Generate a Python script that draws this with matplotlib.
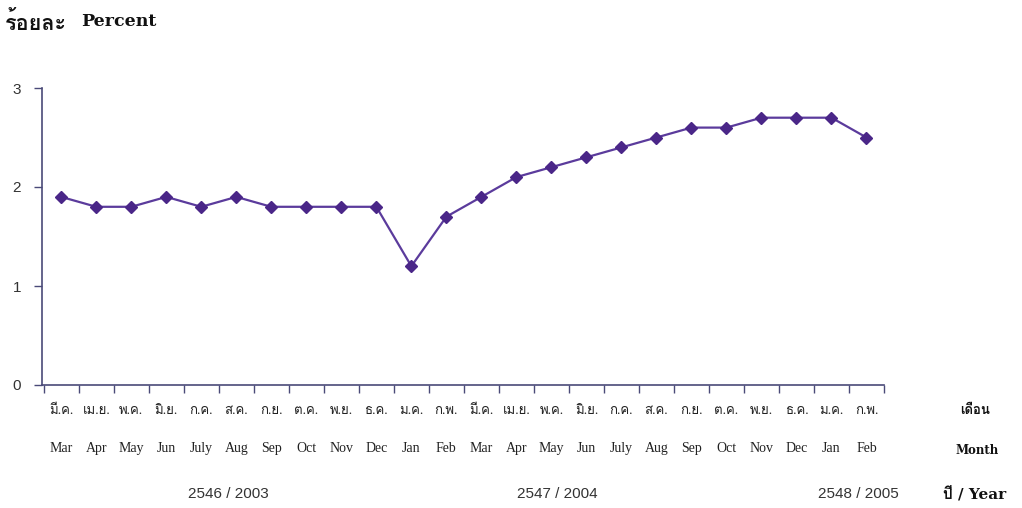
import matplotlib
matplotlib.use("Agg")
import matplotlib.pyplot as plt
import numpy as np

# monthly values, Mar 2003 .. Feb 2005
thai_months = ["มี.ค.", "เม.ย.", "พ.ค.", "มิ.ย.", "ก.ค.", "ส.ค.", "ก.ย.", "ต.ค.",
               "พ.ย.", "ธ.ค.", "ม.ค.", "ก.พ.", "มี.ค.", "เม.ย.", "พ.ค.", "มิ.ย.",
               "ก.ค.", "ส.ค.", "ก.ย.", "ต.ค.", "พ.ย.", "ธ.ค.", "ม.ค.", "ก.พ."]
eng_months = ["Mar", "Apr", "May", "Jun", "July", "Aug", "Sep", "Oct", "Nov", "Dec",
              "Jan", "Feb", "Mar", "Apr", "May", "Jun", "July", "Aug", "Sep", "Oct",
              "Nov", "Dec", "Jan", "Feb"]
values = [1.9, 1.8, 1.8, 1.9, 1.8, 1.9, 1.8, 1.8, 1.8, 1.8, 1.2, 1.7,
          1.9, 2.1, 2.2, 2.3, 2.4, 2.5, 2.6, 2.6, 2.7, 2.7, 2.7, 2.5]
year_labels = ["2546 / 2003", "2547 / 2004", "2548 / 2005"]
year_label_x = [4.76, 14.16, 22.76]

THAI = ["Norasi", "Loma", "Sarabun", "Noto Sans Thai"]
SERIF = ["Liberation Serif"] + THAI
BOLD_SERIF = ["DejaVu Serif"] + THAI
SANS = ["Liberation Sans"]

AXIS_COLOR = "#4a4a78"
LINE_COLOR = "#5b3b9c"
MARKER_COLOR = "#4a2688"

fig = plt.figure(figsize=(10.22, 5.08), dpi=100)
ax = fig.add_axes([42 / 1022, 1 - 385 / 508, 842 / 1022, 297 / 508])

x = np.arange(len(values))
ax.plot(x, values, color=LINE_COLOR, linewidth=1.6, marker="D", markersize=6.5,
        markerfacecolor=MARKER_COLOR, markeredgecolor=MARKER_COLOR)

ax.set_xlim(-0.55, len(values) - 0.5)
ax.set_ylim(0, 3)
ax.set_yticks([0, 1, 2, 3])
ax.set_yticklabels(["0", "1", "2", "3"], family=SANS, fontsize=11, color="#333333")
ax.set_xticks(np.arange(len(values) + 1) - 0.5)
ax.set_xticklabels([])
ax.tick_params(axis="y", direction="out", length=6, width=1, color=AXIS_COLOR, pad=9)
ax.tick_params(axis="x", direction="out", length=6, width=1, color=AXIS_COLOR)

for side in ["top", "right"]:
    ax.spines[side].set_visible(False)
for side in ["left", "bottom"]:
    ax.spines[side].set_color(AXIS_COLOR)
    ax.spines[side].set_linewidth(1.2)

trans = ax.get_xaxis_transform()
for i, (th, en) in enumerate(zip(thai_months, eng_months)):
    ax.text(i, -0.088, th, transform=trans, ha="center", va="center",
            family=SERIF, fontsize=9.5, color="#222222")
    ax.text(i, -0.215, en, transform=trans, ha="center", va="center",
            family=SERIF, fontsize=10, color="#222222")
for xl, lab in zip(year_label_x, year_labels):
    ax.text(xl, -0.367, lab, transform=trans, ha="center", va="center",
            family=SANS, fontsize=11, color="#333333")

fig.text(5 / 1022, 1 - 23 / 508, "ร้อยละ", ha="left", va="center",
         family=BOLD_SERIF, fontsize=15.5, fontweight="bold", color="#111111")
fig.text(81 / 1022, 1 - 22 / 508, "Percent", ha="left", va="center",
         family=BOLD_SERIF, fontsize=12.5, fontweight="bold", color="#111111")
fig.text(975 / 1022, 1 - 411 / 508, "เดือน", ha="center", va="center",
         family=BOLD_SERIF, fontsize=9.5, fontweight="bold", color="#111111")
fig.text(977 / 1022, 1 - 451 / 508, "Month", ha="center", va="center",
         family=BOLD_SERIF, fontsize=8.5, fontweight="bold", color="#111111")
fig.text(975 / 1022, 1 - 494 / 508, "ปี / Year", ha="center", va="center",
         family=BOLD_SERIF, fontsize=11, fontweight="bold", color="#111111")

fig.savefig("out.png")
plt.close(fig)
